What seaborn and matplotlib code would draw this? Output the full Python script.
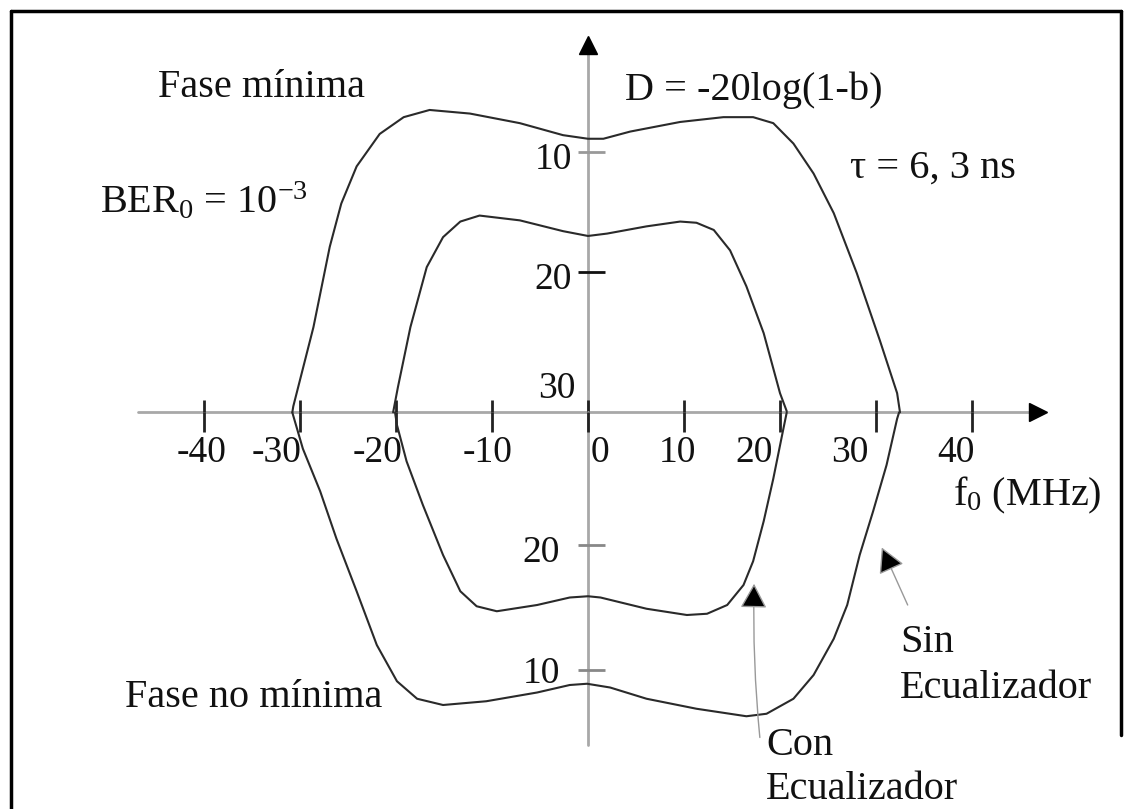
import matplotlib
matplotlib.use("Agg")
import matplotlib.pyplot as plt
from matplotlib.lines import Line2D
import seaborn as sns

# Signature curves: notch depth D (dB) versus notch frequency f0 (MHz)
# Upper half: minimum phase; lower half: non-minimum phase.

# --- minimum phase, without equalizer (outer curve, upper half)
f_min_sin = [-30.8, -30.7, -28.6, -26.9, -25.7, -24.1, -21.7, -19.2, -16.5, -12.3,
             -7.1, -2.6, 0.0, 1.6, 4.4, 9.6, 14.1, 17.2, 19.3, 21.4, 23.5, 25.6,
             28.0, 30.4, 32.2, 32.5]
d_min_sin = [31.7, 31.2, 24.6, 17.9, 14.3, 11.2, 8.5, 7.1, 6.5, 6.8,
             7.6, 8.6, 8.9, 8.9, 8.3, 7.5, 7.1, 7.1, 7.6, 9.3, 11.8, 15.1,
             20.1, 25.7, 30.1, 31.7]

# --- minimum phase, with equalizer (inner curve, upper half)
f_min_con = [-20.3, -19.8, -18.5, -16.8, -15.1, -13.3, -11.3, -7.1, -2.6, 0.0,
             2.0, 6.1, 9.6, 11.3, 13.1, 14.8, 16.5, 18.3, 20.0, 20.7]
d_min_con = [31.7, 29.6, 24.6, 19.6, 17.1, 15.8, 15.3, 15.7, 16.6, 17.0,
             16.8, 16.2, 15.8, 15.9, 16.5, 18.2, 21.2, 25.1, 30.1, 31.6]

# --- non-minimum phase, without equalizer (outer curve, lower half)
f_nmin_sin = [-30.8, -29.7, -27.9, -26.2, -24.1, -22.0, -19.9, -17.8, -15.1, -10.6,
              -5.3, -1.9, -0.1, 2.3, 6.1, 11.3, 16.5, 18.6, 21.4, 23.5, 25.6,
              27.0, 28.3, 29.7, 31.1, 32.2, 32.4]
d_nmin_sin = [30.6, 27.7, 24.3, 20.5, 16.3, 12.0, 9.1, 7.7, 7.2, 7.5,
              8.2, 8.8, 8.9, 8.6, 7.7, 6.9, 6.3, 6.5, 7.7, 9.6, 12.5,
              15.2, 19.2, 22.7, 26.4, 30.1, 30.6]

# --- non-minimum phase, with equalizer (inner curve, lower half)
f_nmin_con = [-20.1, -19.9, -18.9, -17.2, -15.1, -13.3, -11.6, -9.5, -5.3, -1.9,
              0.0, 1.3, 6.1, 10.3, 12.4, 14.5, 16.2, 17.2, 18.3, 19.3, 20.3, 20.7]
d_nmin_con = [30.6, 29.6, 26.7, 23.2, 19.2, 16.3, 15.1, 14.7, 15.2, 15.8,
              15.9, 15.8, 14.9, 14.4, 14.5, 15.2, 16.8, 18.7, 21.9, 25.3, 29.1, 30.6]

x_ticks = [-40, -30, -20, -10, 0, 10, 20, 30, 40]
d_ticks_min = [10, 20]
d_ticks_nmin = [20, 10]

# ---------------------------------------------------------------- layout
W, H = 1133, 809
AX_Y = 412            # pixel row of the frequency axis
X0 = 588              # pixel column of f0 = 0
PX_MHZ = 9.6
D_AX_UP, PX_DB_UP = 31.67, 12.0
D_AX_LO, PX_DB_LO = 30.64, 12.5

sns.set_theme(style="white")
plt.rcParams["font.family"] = ["Liberation Serif", "DejaVu Serif"]
plt.rcParams["mathtext.fontset"] = "custom"
plt.rcParams["mathtext.rm"] = "Liberation Serif"
plt.rcParams["mathtext.it"] = "Liberation Serif:italic"

fig = plt.figure(figsize=(W / 100, H / 100), dpi=100)
fig.patch.set_facecolor("white")

xlim = (-X0 / PX_MHZ, (W - X0) / PX_MHZ)
ax_up = fig.add_axes([0, (H - AX_Y) / H, 1, AX_Y / H])
ax_lo = fig.add_axes([0, 0, 1, (H - AX_Y) / H])
ax_up.set_xlim(*xlim)
ax_lo.set_xlim(*xlim)
ax_up.set_ylim(D_AX_UP, D_AX_UP - AX_Y / PX_DB_UP)          # D grows toward the f axis
ax_lo.set_ylim(D_AX_LO - (H - AX_Y) / PX_DB_LO, D_AX_LO)
for ax in (ax_up, ax_lo):
    ax.set_axis_off()
    ax.patch.set_alpha(0)

AXIS_GRAY = "#a8a8a8"
CURVE = "#2a2a2a"
FS_TEXT = 29
FS_TICK = 27

# axes lines and arrow heads
f_left, f_right = (138 - X0) / PX_MHZ, (1032 - X0) / PX_MHZ
ax_up.plot([f_left, f_right], [D_AX_UP, D_AX_UP], color=AXIS_GRAY, lw=2, clip_on=False, zorder=1)
ax_up.plot([f_right + 0.6], [D_AX_UP], marker=">", color="black", ms=13, clip_on=False, zorder=3)
ax_up.plot([0, 0], [D_AX_UP, D_AX_UP - 360 / PX_DB_UP], color=AXIS_GRAY, lw=2, clip_on=False, zorder=1)
ax_up.plot([0], [D_AX_UP - 367 / PX_DB_UP], marker="^", color="black", ms=13, clip_on=False, zorder=3)
ax_lo.plot([0, 0], [D_AX_LO, D_AX_LO - 333 / PX_DB_LO], color=AXIS_GRAY, lw=2, clip_on=False, zorder=1)

# frequency ticks straddling the axis
ax_up.vlines(x_ticks, D_AX_UP, D_AX_UP - 12 / PX_DB_UP, color="#222", lw=2, clip_on=False, zorder=2)
ax_lo.vlines(x_ticks, D_AX_LO, D_AX_LO - 20 / PX_DB_LO, color="#222", lw=2, clip_on=False, zorder=2)
label_nudge = [-0.3, -2.4, -1.9, -0.5, 1.25, -0.7, -2.7, -2.7, -1.7]
for v, dx in zip(x_ticks, label_nudge):
    ax_lo.text(v + dx, D_AX_LO - 50 / PX_DB_LO, f"{v}", ha="center", va="baseline",
               fontsize=FS_TICK, color="#111")

# depth ticks on the vertical axis
t0, t1 = -10 / PX_MHZ, 17 / PX_MHZ
ax_up.hlines(d_ticks_min, t0, t1, color=["#999999", "#111111"], lw=2, zorder=2)
ax_lo.hlines(d_ticks_nmin, t0, t1, color="#888888", lw=2, zorder=2)
for d in d_ticks_min:
    ax_up.text(-16 / PX_MHZ, d + 1.45, f"{d}", ha="right", va="baseline", fontsize=FS_TICK, color="#111")
ax_up.text(-13 / PX_MHZ, 30.5, "30", ha="right", va="baseline", fontsize=FS_TICK, color="#111")
for d, dd in zip(d_ticks_nmin, [-1.4, -1.05]):
    ax_lo.text(-28 / PX_MHZ, d + dd, f"{d}", ha="right", va="baseline", fontsize=FS_TICK, color="#111")

# signature curves
curves = [(ax_up, f_min_sin, d_min_sin), (ax_up, f_min_con, d_min_con),
          (ax_lo, f_nmin_sin, d_nmin_sin), (ax_lo, f_nmin_con, d_nmin_con)]
for ax, f, d in curves:
    sns.lineplot(x=f, y=d, sort=False, estimator=None, ax=ax, color=CURVE, lw=1.5, legend=False)
for ax in (ax_up, ax_lo):
    for ln in ax.lines:
        ln.set_clip_on(False)
        ln.set_solid_joinstyle("round")


def fig_text(px, py, s, **kw):
    fig.text(px / W, 1 - py / H, s, fontsize=FS_TEXT, color="#111", va="baseline", **kw)


fig_text(158, 97, "Fase mínima")
fig_text(100, 213, r"BER$_\mathrm{0}$ = 10$^{\mathrm{-3}}$")
fig_text(625, 100, "D = -20log(1-b)")
fig_text(850, 178, "τ = 6, 3 ns")
fig_text(953, 505, r"f$_\mathrm{0}$ (MHz)")
fig_text(125, 707, "Fase no mínima")
fig_text(900, 652, "Sin")
fig_text(900, 698, "Ecualizador")
fig_text(766, 755, "Con")
fig_text(766, 799, "Ecualizador")

# pointers to the curves
head = "-|>,head_length=0.55,head_width=0.3"
ax_lo.annotate("", xy=(17.3, 16.9), xytext=(17.9, 4.6),
               arrowprops=dict(arrowstyle=head, fc="black", ec="#999999", lw=1,
                               mutation_scale=28, shrinkA=0, shrinkB=0,
                               connectionstyle="arc3,rad=-0.03"))
ax_lo.annotate("", xy=(30.6, 19.8), xytext=(33.3, 15.2),
               arrowprops=dict(arrowstyle=head, fc="black", ec="#999999", lw=1,
                               mutation_scale=28, shrinkA=0, shrinkB=0))

# frame
frame = dict(color="black", lw=2.5, transform=fig.transFigure)
fig.add_artist(Line2D([11 / W, 11 / W], [0, 1 - 11 / H], **frame))
fig.add_artist(Line2D([11 / W, 1121 / W], [1 - 11 / H, 1 - 11 / H], **frame))
fig.add_artist(Line2D([1121 / W, 1121 / W], [1 - 11 / H, 1 - 735 / H], **frame))

fig.savefig("out.png", dpi=100, facecolor="white")
